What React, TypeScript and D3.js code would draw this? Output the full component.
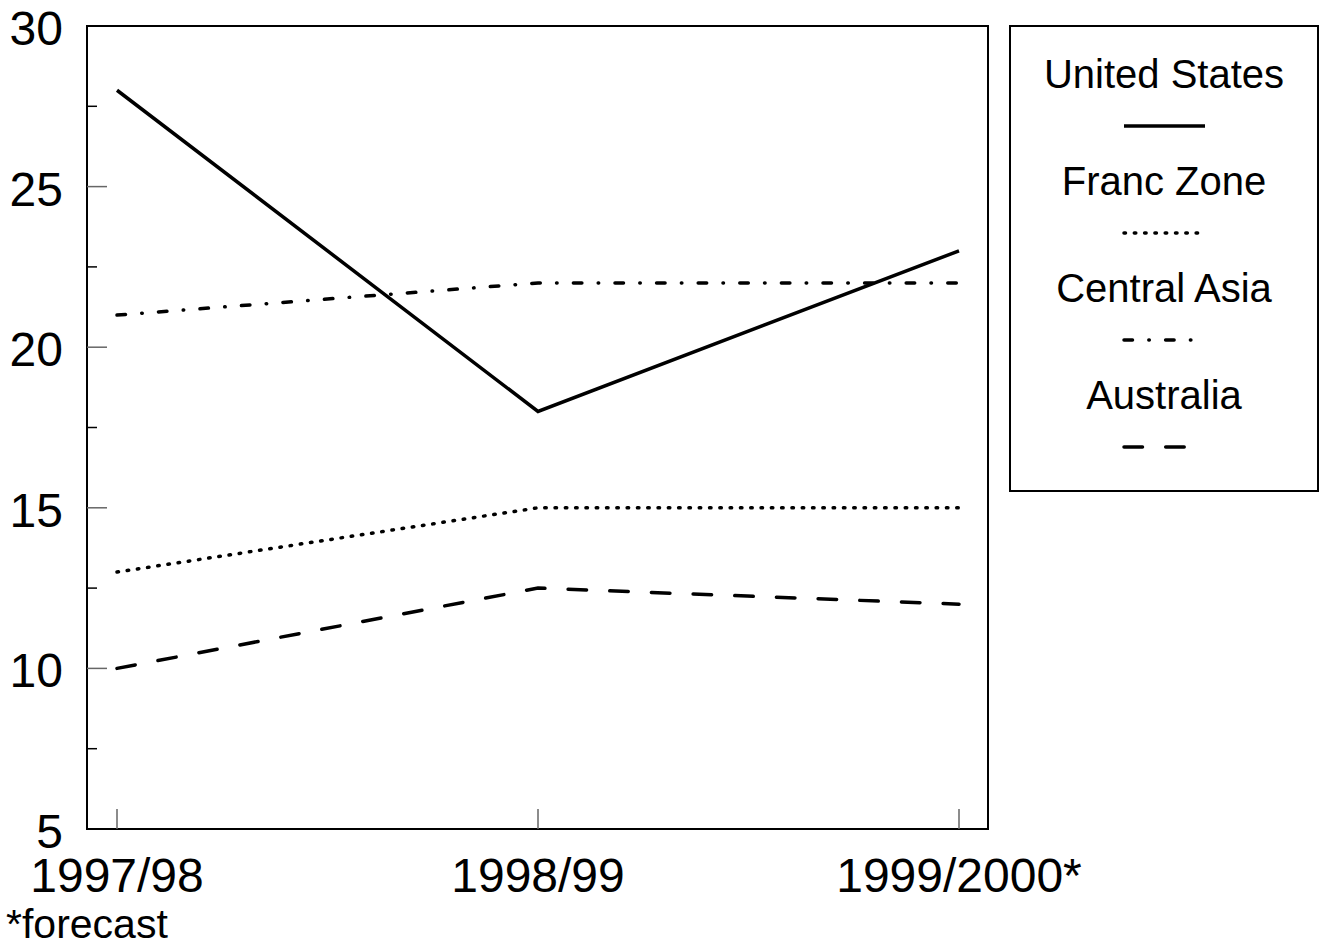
import React from 'react';
import * as d3 from 'd3';

// chart values
const periods = ['1997/98', '1998/99', '1999/2000*'];
const seriesNames = ['United States', 'Franc Zone', 'Central Asia', 'Australia'];
const unitedStates = [28, 18, 23];
const francZone = [13, 15, 15];
const centralAsia = [21, 22, 22];
const australia = [10, 12.5, 12];
const yTicks = [5, 10, 15, 20, 25, 30];
const yMinorTicks = [7.5, 12.5, 17.5, 22.5, 27.5];

const dashes = [null, '1.5 8.8', '8.5 16.3 0.5 16.3', '18.5 23.2'];

const W = 1322;
const H = 945;
const frame = { left: 87, top: 26, right: 988, bottom: 829 };
const font = 'Liberation Sans, Arial, Helvetica, sans-serif';

const App = () => {
  const x = d3.scalePoint().domain(periods).range([117, 959]);
  const y = d3.scaleLinear().domain([5, 30]).range([frame.bottom, frame.top]);

  const seriesValues = [unitedStates, francZone, centralAsia, australia];
  const line = d3.line<number>()
    .x((_, i) => x(periods[i]) as number)
    .y(d => y(d));

  const legendX = 1164;
  const legendRowH = 107;

  return (
    <svg width={W} height={H} style={{ position: 'absolute', left: 0, top: 0, background: '#fff' }}>
      {/* frame */}
      <rect x={frame.left} y={frame.top} width={frame.right - frame.left} height={frame.bottom - frame.top}
        fill="none" stroke="#000" strokeWidth={2} />

      {/* y ticks */}
      {yTicks.map(t => (
        <g key={'y' + t}>
          {t !== 5 && t !== 30 && (
            <line x1={frame.left} x2={frame.left + 20} y1={y(t)} y2={y(t)} stroke="#666" strokeWidth={1.5} />
          )}
          <text x={63} y={y(t) + 19} textAnchor="end" fontFamily={font} fontSize={48}>{t}</text>
        </g>
      ))}
      {yMinorTicks.map(t => (
        <line key={'m' + t} x1={frame.left} x2={frame.left + 10} y1={y(t)} y2={y(t)} stroke="#000" strokeWidth={1.5} />
      ))}

      {/* x ticks */}
      {periods.map(p => (
        <g key={p}>
          <line x1={x(p)} x2={x(p)} y1={frame.bottom} y2={frame.bottom - 20} stroke="#666" strokeWidth={1.5} />
          <text x={x(p)} y={892} textAnchor="middle" fontFamily={font} fontSize={48}>{p}</text>
        </g>
      ))}
      <text x={6} y={938} fontFamily={font} fontSize={41}>*forecast</text>

      {/* series */}
      {seriesValues.map((vals, i) => (
        <path key={seriesNames[i]} d={line(vals) || ''} fill="none" stroke="#000" strokeWidth={3.5}
          strokeLinecap={dashes[i] ? 'round' : 'butt'}
          strokeDasharray={dashes[i] || undefined} />
      ))}

      {/* legend */}
      <rect x={1010} y={26} width={308} height={465} fill="none" stroke="#000" strokeWidth={2} />
      {seriesNames.map((name, i) => {
        const base = 88 + i * legendRowH;
        return (
          <g key={'l' + name}>
            <text x={legendX} y={base} textAnchor="middle" fontFamily={font} fontSize={40}>{name}</text>
            <line x1={1124} x2={i === 0 ? 1205 : 1201} y1={base + 38} y2={base + 38}
              stroke="#000" strokeWidth={3.5}
              strokeLinecap={dashes[i] ? 'round' : 'butt'}
              strokeDasharray={dashes[i] || undefined} />
          </g>
        );
      })}
    </svg>
  );
};

export default App;
